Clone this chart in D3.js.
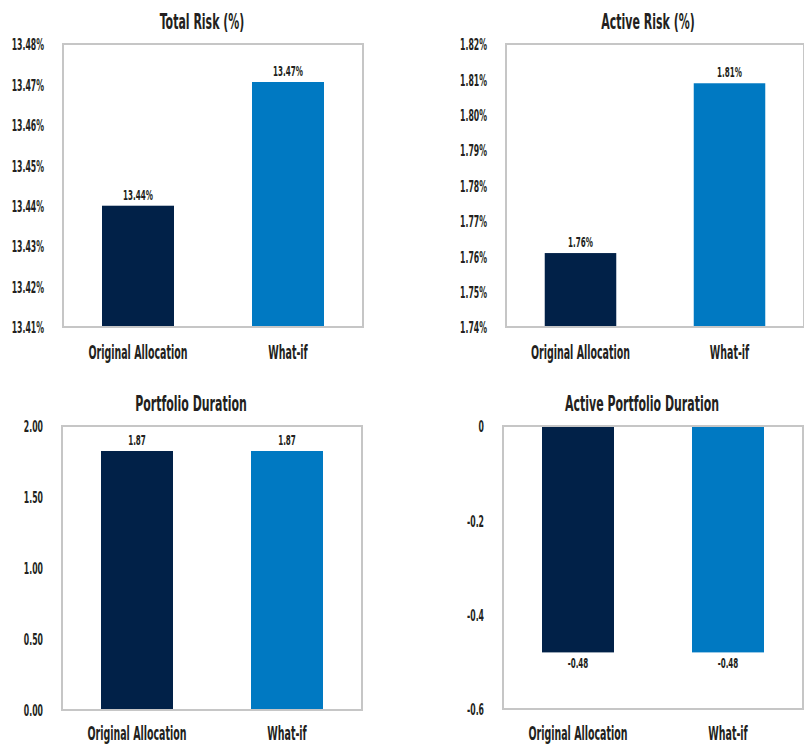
<!DOCTYPE html>
<html>
<head>
<meta charset="utf-8">
<script src="https://cdn.jsdelivr.net/npm/d3@7"></script>
<style>
  body { margin: 0; background: #fff; }
  text { font-family: "DejaVu Sans Condensed", "DejaVu Sans", sans-serif; font-weight: bold; fill: #231f20; }
</style>
</head>
<body>
<svg id="grafico"></svg>
<script>
const WIDTH = 804,
  HEIGHT = 745;

// datos
const categorias = ["Original Allocation", "What-if"];
const coloresBarras = ["#012148", "#0079c2"];

const riesgoTotal = [13.44, 13.4706];
const riesgoTotalEtiquetas = ["13.44%", "13.47%"];
const riesgoTotalTicks = [13.41, 13.42, 13.43, 13.44, 13.45, 13.46, 13.47, 13.48];

const riesgoActivo = [1.7609, 1.8089];
const riesgoActivoEtiquetas = ["1.76%", "1.81%"];
const riesgoActivoTicks = [1.74, 1.75, 1.76, 1.77, 1.78, 1.79, 1.80, 1.81, 1.82];

const duracion = [1.824, 1.824];
const duracionEtiquetas = ["1.87", "1.87"];
const duracionTicks = [0, 0.5, 1, 1.5, 2];

const duracionActiva = [-0.48, -0.48];
const duracionActivaEtiquetas = ["-0.48", "-0.48"];
const duracionActivaTicks = [0, -0.2, -0.4, -0.6];

const svg = d3.select("#grafico")
  .attr("width", WIDTH)
  .attr("height", HEIGHT);

// texto angosto: se comprime en x para parecerse a la fuente condensada
const texto = (g, x, y, str, size, sx, anchor) => {
  g.append("text")
    .attr("transform", `translate(${x} ${y}) scale(${sx} 1)`)
    .attr("text-anchor", anchor)
    .style("font-size", size + "px")
    .text(str);
};

const paneles = [
  { titulo: "Total Risk (%)", tituloX: 202, left: 63, top: 44, w: 300, h: 283,
    valores: riesgoTotal, etiquetas: riesgoTotalEtiquetas, ticks: riesgoTotalTicks,
    fmt: d => d.toFixed(2) + "%", negativo: false },
  { titulo: "Active Risk (%)", tituloX: 648, left: 506, top: 44, w: 298, h: 283,
    valores: riesgoActivo, etiquetas: riesgoActivoEtiquetas, ticks: riesgoActivoTicks,
    fmt: d => d.toFixed(2) + "%", negativo: false },
  { titulo: "Portfolio Duration", tituloX: 191, left: 62, top: 426, w: 300, h: 284,
    valores: duracion, etiquetas: duracionEtiquetas, ticks: duracionTicks,
    fmt: d => d.toFixed(2), negativo: false },
  { titulo: "Active Portfolio Duration", tituloX: 642, left: 503, top: 426, w: 300, h: 283,
    valores: duracionActiva, etiquetas: duracionActivaEtiquetas, ticks: duracionActivaTicks,
    fmt: d => d === 0 ? "0" : d.toFixed(1), negativo: true }
];

paneles.forEach(p => {
  const g = svg.append("g");
  const dominio = d3.extent(p.ticks);

  const escalaY = d3.scaleLinear()
    .domain(dominio)
    .range([p.top + p.h, p.top]);

  const escalaX = d3.scaleBand()
    .domain(categorias)
    .range([p.left, p.left + p.w])
    .paddingInner(0.52)
    .paddingOuter(0.26);

  // base de las barras: el minimo del eje, o cero si son negativas
  const base = p.negativo ? 0 : dominio[0];

  g.selectAll("rect.barra")
    .data(p.valores)
    .join("rect")
    .attr("class", "barra")
    .attr("x", (_, i) => escalaX(categorias[i]))
    .attr("width", escalaX.bandwidth())
    .attr("y", d => Math.min(escalaY(d), escalaY(base)))
    .attr("height", d => Math.abs(escalaY(d) - escalaY(base)))
    .attr("fill", (_, i) => coloresBarras[i]);

  // marco gris del area de grafico
  g.append("rect")
    .attr("x", p.left)
    .attr("y", p.top)
    .attr("width", p.w)
    .attr("height", p.h)
    .attr("fill", "none")
    .attr("stroke", "#c6c6c6")
    .attr("stroke-width", 2);

  // eje y (solo las etiquetas)
  const ejeY = d3.axisLeft(escalaY)
    .tickValues(p.ticks)
    .tickFormat(p.fmt)
    .tickSize(0)
    .tickPadding(0);

  const contEje = g.append("g")
    .attr("transform", `translate(${p.left - 19} 0)`)
    .call(ejeY);
  contEje.select(".domain").remove();
  contEje.selectAll(".tick text")
    .attr("font-family", null)
    .attr("font-size", null)
    .attr("fill", null)
    .attr("dy", "0.36em")
    .attr("transform", "scale(0.54 1)")
    .style("font-size", "16px");

  // etiquetas de valores
  p.valores.forEach((v, i) => {
    const cx = escalaX(categorias[i]) + escalaX.bandwidth() / 2;
    const y = p.negativo ? escalaY(v) + 16 : escalaY(v) - 6;
    texto(g, cx, y, p.etiquetas[i], 14, 0.57, "middle");
  });

  // categorias
  categorias.forEach(c => {
    texto(g, escalaX(c) + escalaX.bandwidth() / 2, Math.min(p.top + p.h + 32, HEIGHT - 5), c, 19, 0.555, "middle");
  });

  // titulo
  texto(g, p.tituloX, p.top - 15, p.titulo, 22, 0.555, "middle");
});
</script>
</body>
</html>
